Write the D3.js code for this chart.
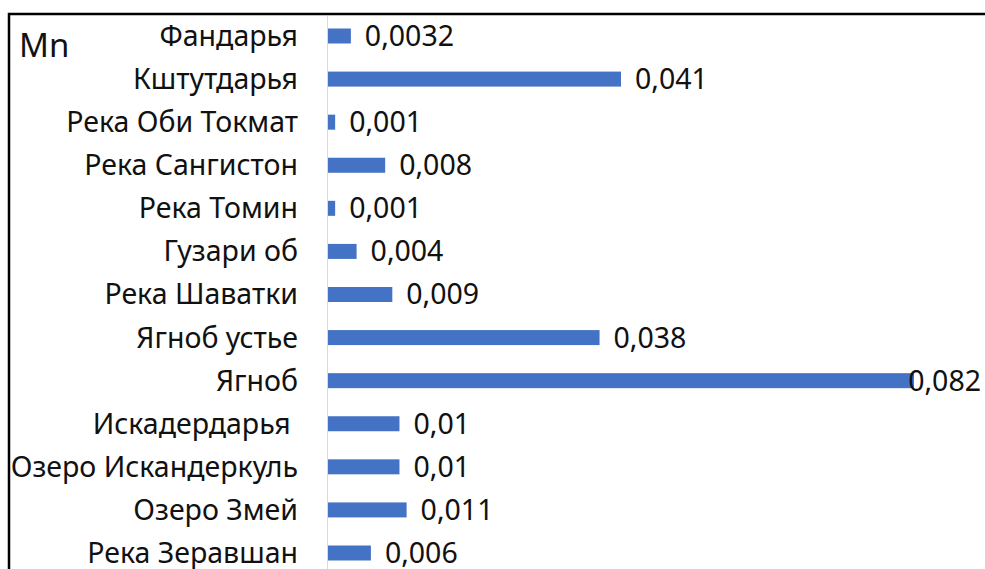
<!DOCTYPE html>
<html>
<head>
<meta charset="utf-8">
<script src="https://cdn.jsdelivr.net/npm/d3@7"></script>
<style>
  body { margin: 0; background: #fff; }
  svg { display: block; font-family: "Noto Sans", sans-serif; }
</style>
</head>
<body>
<svg id="chart" width="985" height="569"></svg>
<script>
// данные
const categories = [
  "Фандарья", "Кштутдарья", "Река Оби Токмат", "Река Сангистон", "Река Томин",
  "Гузари об", "Река Шаватки", "Ягноб устье", "Ягноб", "Искадердарья ",
  "Озеро Искандеркуль", "Озеро Змей", "Река Зеравшан"
];
const values = [0.0032, 0.041, 0.001, 0.008, 0.001, 0.004, 0.009, 0.038, 0.082, 0.01, 0.01, 0.011, 0.006];
const valueLabels = ["0,0032", "0,041", "0,001", "0,008", "0,001", "0,004", "0,009", "0,038", "0,082", "0,01", "0,01", "0,011", "0,006"];
const title = "Mn";

const BAR_COLOR = "#4472C4";
const FONT_SIZE = 28.5;
const BAR_H = 15;

const svg = d3.select("#chart");

// рамка (обрезана справа и снизу)
svg.append("path")
  .attr("d", "M9,569 V14 H985")
  .attr("fill", "none")
  .attr("stroke", "#000")
  .attr("stroke-width", 2.5);

const x = d3.scaleLinear().domain([0, 0.082]).range([328, 914]);
const y = d3.scalePoint().domain(categories).range([36, 553]);

// ось
svg.append("line")
  .attr("x1", x(0) - 0.5).attr("x2", x(0) - 0.5)
  .attr("y1", 16).attr("y2", 569)
  .attr("stroke", "#d9d9d9")
  .attr("stroke-width", 1);

const rows = categories.map((c, i) => ({ name: c, v: values[i], label: valueLabels[i] }));

svg.selectAll("rect.bar")
  .data(rows)
  .join("rect")
  .attr("class", "bar")
  .attr("x", x(0))
  .attr("y", d => y(d.name) - BAR_H / 2)
  .attr("width", d => x(d.v) - x(0))
  .attr("height", BAR_H)
  .attr("fill", BAR_COLOR);

// подписи категорий
svg.selectAll("text.cat")
  .data(rows)
  .join("text")
  .attr("class", "cat")
  .attr("x", 298)
  .attr("y", d => y(d.name))
  .attr("dy", "0.35em")
  .attr("text-anchor", "end")
  .style("white-space", "pre")
  .attr("font-size", FONT_SIZE)
  .attr("fill", "#111")
  .text(d => d.name);

// подписи значений
const vl = svg.selectAll("text.val")
  .data(rows)
  .join("text")
  .attr("class", "val")
  .attr("y", d => y(d.name))
  .attr("dy", "0.35em")
  .attr("font-size", FONT_SIZE)
  .attr("fill", "#111")
  .text(d => d.label);

vl.each(function (d) {
  let w = this.getComputedTextLength();
  let px = x(d.v) + 14;
  //не вылезать за край
  if (px + w > 981) px = 981 - w;
  d3.select(this).attr("x", px);
});

svg.append("text")
  .attr("x", 19)
  .attr("y", 57)
  .attr("font-size", 33)
  .attr("fill", "#111")
  .text(title);
</script>
</body>
</html>
